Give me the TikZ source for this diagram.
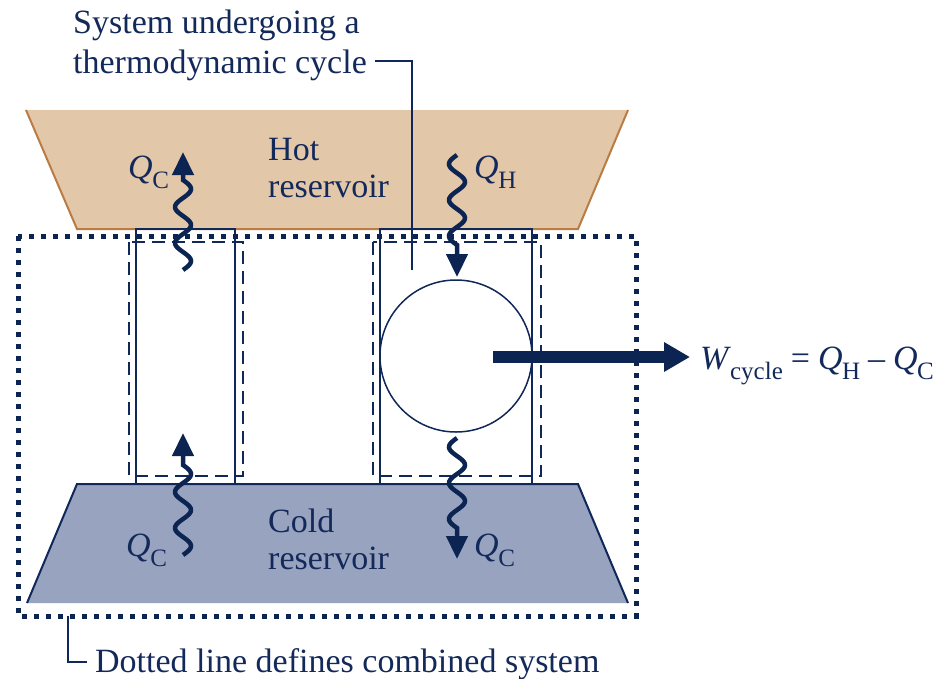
\documentclass[tikz,border=0pt]{standalone}
\usepackage{fontspec}
\setmainfont{Liberation Serif}
\usetikzlibrary{arrows.meta}
\definecolor{navy}{HTML}{10275A}
\definecolor{deepnavy}{HTML}{0B2452}
\definecolor{txt}{HTML}{13295A}
\definecolor{hotfill}{HTML}{E3C7A9}
\definecolor{hotedge}{HTML}{B97C45}
\definecolor{coldfill}{HTML}{98A3C0}
\newcommand\qsub[1]{\textit{Q}\kern-0.5pt\raisebox{-0.3em}{\fontsize{25}{25}\selectfont #1}}
\newcommand\opgap{\hspace{8pt}}
\tikzset{
  lbl/.style={font=\fontsize{34}{37}\selectfont, text=txt, inner sep=0pt, align=left},
  solidbox/.style={draw=navy, line width=1.5pt},
  dashbox/.style={draw=navy, line width=2.2pt, dash pattern=on 13pt off 7pt},
  dotbox/.style={draw=deepnavy, line width=5pt, dash pattern=on 5pt off 7pt},
  wave/.style={draw=deepnavy, line width=4.5pt, -{Triangle[width=21pt,length=23pt]}},
  leader/.style={draw=navy, line width=1.2pt},
}
\begin{document}
\begin{tikzpicture}[x=1pt,y=-1pt]
\useasboundingbox (0,0) rectangle (937,678);
% reservoirs
\fill[hotfill] (26,110) -- (628,110) -- (578,229) -- (77,229) -- cycle;
\draw[hotedge, line width=2pt] (26,110) -- (77,229) -- (578,229) -- (628,110);
\fill[coldfill] (77,484) -- (578,484) -- (628,603) -- (27,603) -- cycle;
\draw[navy, line width=2pt] (27,603) -- (77,484) -- (578,484) -- (628,603);
% columns
\draw[solidbox] (136,229) rectangle (235,484);
\draw[dashbox] (129,242) rectangle (243,476);
\draw[solidbox] (380,229) rectangle (532,484);
\draw[dashbox] (373,242) rectangle (541,476);
% cycle circle
\node[circle, draw=navy, line width=1.5pt, minimum size=152pt, inner sep=0pt] (cyc) at (456,356) {};
% dotted combined system
\draw[dotbox] (18,236) rectangle (636,616);
% texts
\node[lbl, anchor=base west] (hot) at (268,197) {Hot\\reservoir};
\node[lbl, anchor=base west] (cold) at (268,569) {Cold\\reservoir};
\node[lbl, anchor=base west, font=\fontsize{34}{40}\selectfont] (sys) at (73,73) {System undergoing a\\thermodynamic cycle};
\node[lbl, anchor=base west] (comb) at (95,672) {Dotted line defines combined system};
\node[lbl, anchor=base west] (qc1) at (128,178) {\qsub{C}};
\node[lbl, anchor=base west] (qh) at (474,178) {\qsub{H}};
\node[lbl, anchor=base west] (qc2) at (126,556) {\qsub{C}};
\node[lbl, anchor=base west] (qc3) at (474,556) {\qsub{C}};
\node[lbl, anchor=base west] (wl) at (700,369) {\textit{W}\kern-1pt\raisebox{-0.3em}{\fontsize{25}{25}\selectfont cycle}\opgap=\opgap\qsub{H}\opgap\textendash\opgap\qsub{C}};
% leaders
\coordinate (sysend) at (375,61);
\coordinate (sysin) at (412,270);
\draw[leader] (sysend) -- (412,61) -- (sysin);
\coordinate (combtop) at (68,616);
\coordinate (combend) at (87,662);
\draw[leader] (combtop) |- (combend);
% work arrow
\coordinate (wstart) at (493,357);
\draw[deepnavy, line width=12pt, -{Triangle[width=28pt,length=26pt]}] (wstart) -- (690,357);
% wavy heat arrows
\draw[wave] plot[domain=0:90, samples=80, smooth] ({183+8*sin(\x*10)}, {270-\x}) -- (183,152);
\draw[wave] plot[domain=0:90, samples=80, smooth] ({183+8*sin(\x*10)}, {555-\x}) -- (183,433);
\draw[wave] plot[domain=0:90, samples=80, smooth] ({457-8*sin(\x*10)}, {155+\x}) -- (457,277);
\draw[wave] plot[domain=0:90, samples=80, smooth] ({457-8*sin(\x*10)}, {438+\x}) -- (457,559);
\end{tikzpicture}
\end{document}
